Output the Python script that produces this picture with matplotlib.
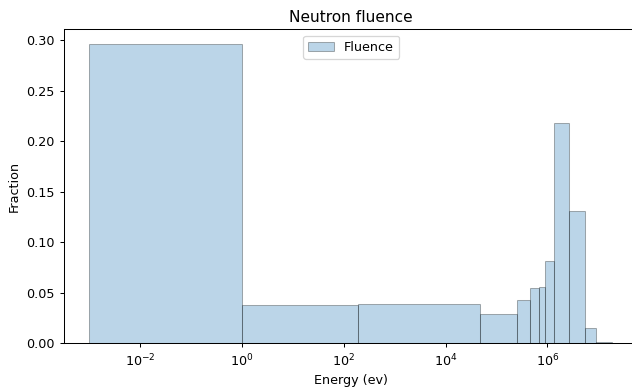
import matplotlib
matplotlib.use("Agg")
import matplotlib.pyplot as plt
import numpy as np

# Energy group edges (eV) and fluence fractions
bin_edges = [1e-3, 1.0, 195.0, 4.8e4, 2.5e5, 4.5e5, 7.0e5, 9.0e5,
             1.35e6, 2.7e6, 5.5e6, 9.0e6, 1.9e7]
fractions = [0.296, 0.038, 0.039, 0.0295, 0.043, 0.055, 0.056,
             0.082, 0.218, 0.131, 0.015, 0.001]

DPI = 92
fig = plt.figure(figsize=(632 / DPI, 388 / DPI), dpi=DPI)
ax = fig.add_axes([0.1005, 0.1152, 0.9106, 0.8093])

ax.hist(bin_edges[:-1], bins=bin_edges, weights=fractions,
        alpha=0.3, edgecolor='black', linewidth=0.8, label='Fluence')
ax.set_xscale('log')
ax.set_xlim(10**-3.503, 10**7.80)
ax.set_ylim(0, 0.311)

ax.set_title('Neutron fluence')
ax.set_xlabel('Energy (ev)')
ax.set_ylabel('Fraction')
ax.legend(loc='upper center')

fig.savefig('out.png', dpi=DPI)
